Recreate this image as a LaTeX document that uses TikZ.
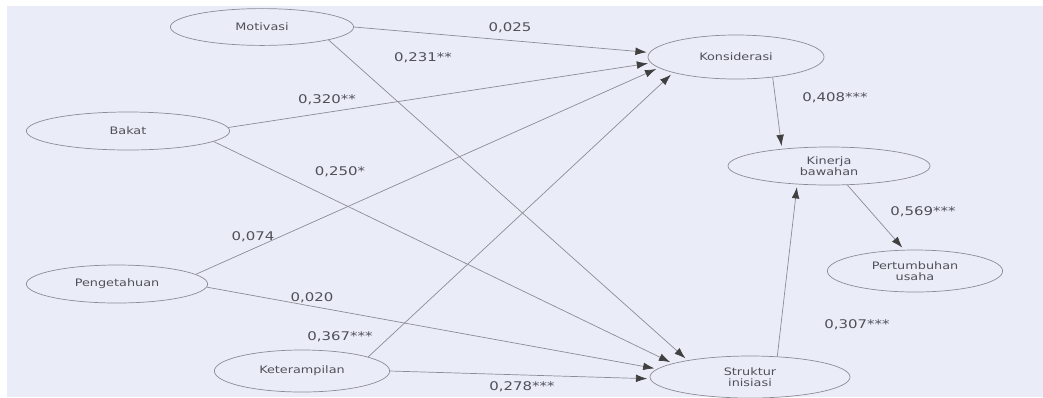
\documentclass[tikz,border=0pt]{standalone}
\usepackage{fontspec}
\setmainfont{DejaVu Sans}[FakeStretch=1.25]
\usetikzlibrary{shapes.geometric,arrows.meta}
\definecolor{bgblue}{RGB}{234,237,248}
\definecolor{linegray}{RGB}{140,140,148}
\definecolor{txtgray}{RGB}{80,80,88}

\begin{document}
\begin{tikzpicture}[
            x = 0.025cm, y = -0.025cm, % one unit = one pixel of the scan
            > = {Latex[length=8pt,width=5.5pt,color=black!75]}, % arrow head style
            shorten > = 2pt, % don't touch arrow head to node
            line width = 0.5pt,
            var/.style = {shape=ellipse, draw=linegray, text=txtgray, align=center,
                          inner sep=0pt, font=\fontsize{7.3}{8.3}\selectfont},
            coef/.style = {text=txtgray, inner sep=1pt, font=\fontsize{8.5}{10}\selectfont},
            link/.style = {->, draw=linegray}
        ]
\useasboundingbox (0,0) rectangle (1043,397);
\fill[bgblue] (7,6) rectangle (1043,397);

% independent variables
\node[var, minimum width=4.58cm, minimum height=0.92cm] (M) at (262,27) {Motivasi};
\node[var, minimum width=5.08cm, minimum height=0.95cm] (B) at (128,131) {Bakat};
\node[var, minimum width=4.53cm, minimum height=0.95cm] (P) at (117,284) {Pengetahuan};
\node[var, minimum width=4.38cm, minimum height=1.05cm] (Ke) at (302,371) {Keterampilan};

% mediators and outcomes
\node[var, minimum width=4.4cm, minimum height=1.1cm] (Ko) at (736,57) {Konsiderasi};
\node[var, minimum width=5.05cm, minimum height=0.95cm] (Ki) at (829,166) {Kinerja\\bawahan};
\node[var, minimum width=4.38cm, minimum height=1.05cm] (Pe) at (915,271) {Pertumbuhan\\usaha};
\node[var, minimum width=5.0cm, minimum height=1.05cm] (S) at (750,377) {Struktur\\inisiasi};

 \path (M.east) edge[link] (Ko.177);
 \path (M.-11) edge[link] (S.165);
 \path (B.2) edge[link] (Ko.184);
 \path (B.-7) edge[link] (S.170);
 \path (P.7) edge[link] (Ko.188);
 \path (P.-2) edge[link] (S.175);
 \path (Ke.12) edge[link] (Ko.194);
 \path (Ke.east) edge[link] (S.181);

 \path (Ko.-29) edge[link] (Ki.160);
 \path (S.37) edge[link] (Ki.-150);
 \path (Ki.-46) edge[link] (Pe.117);

% path coefficients
\node[coef] (w1) at (510,28) {0,025};
\node[coef] (w2) at (423,58) {0,231**};
\node[coef] (w3) at (327,100) {0,320**};
\node[coef] (w4) at (340,172) {0,250*};
\node[coef] (w5) at (253,237) {0,074};
\node[coef] (w6) at (312,298) {0,020};
\node[coef] (w7) at (340,337) {0,367***};
\node[coef] (w8) at (522,387) {0,278***};
\node[coef] (w9) at (835,98) {0,408***};
\node[coef] (w10) at (923,212) {0,569***};
\node[coef] (w11) at (857,325) {0,307***};
\end{tikzpicture}
\end{document}
